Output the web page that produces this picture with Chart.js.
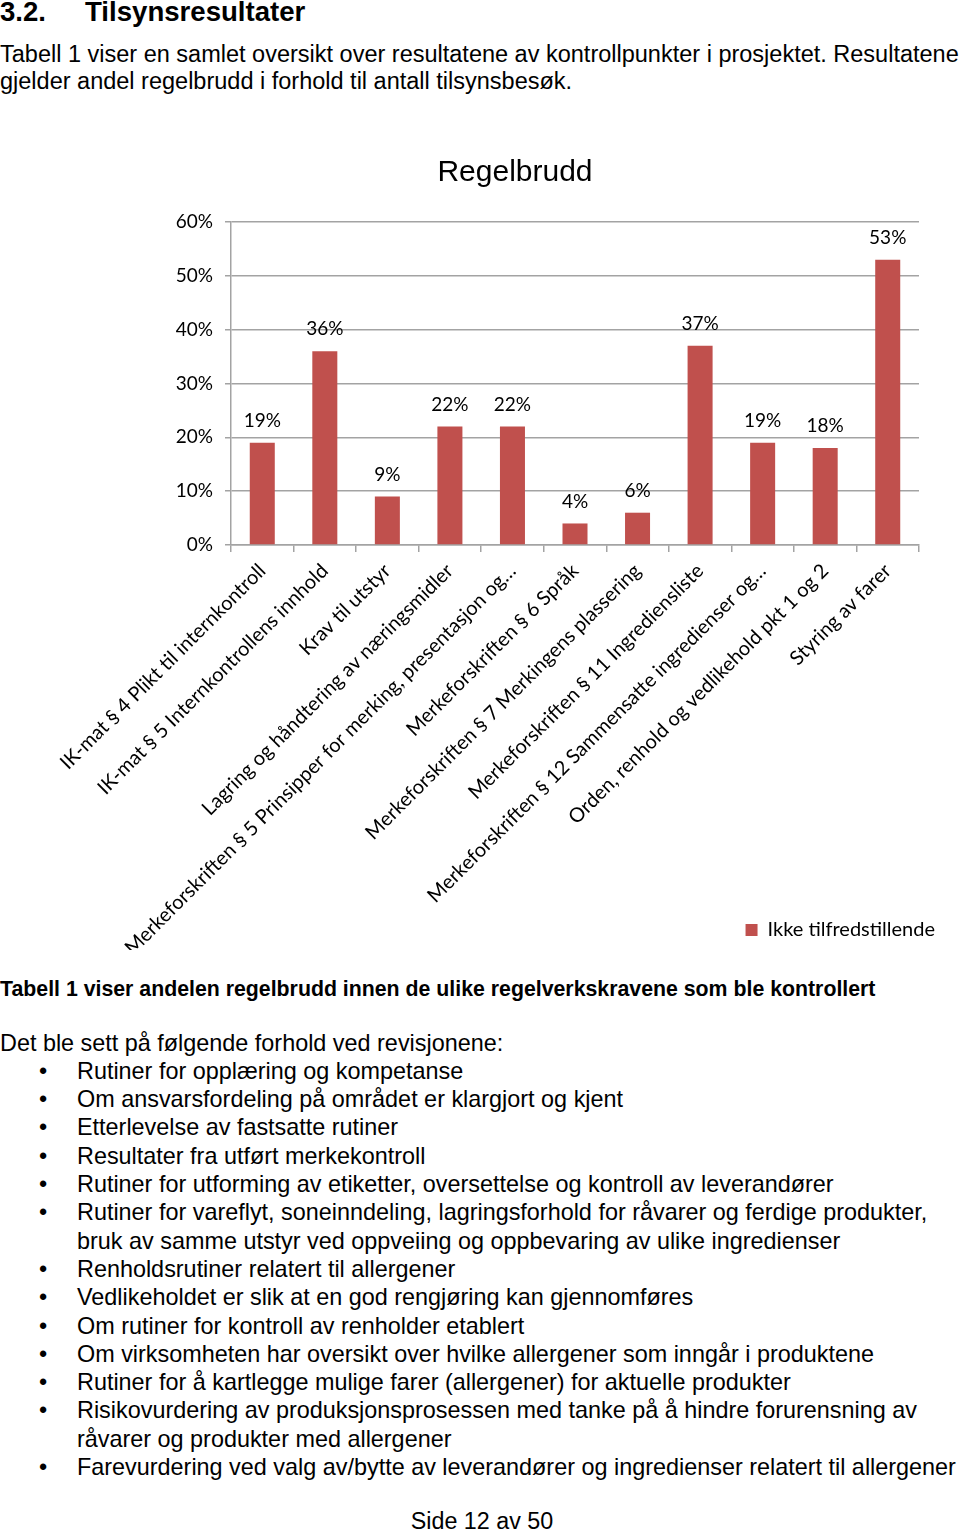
<!DOCTYPE html>
<html>
<head>
<meta charset="utf-8">
<script src="https://cdn.jsdelivr.net/npm/chart.js@4.4.0/dist/chart.umd.min.js"></script>
<style>
  body { margin: 0; background: #fff; }
  #page { position: relative; width: 960px; height: 1532px; overflow: hidden;
          font-family: "Liberation Sans", Arial, sans-serif; color: #000; }
  .t { position: absolute; left: 0; white-space: nowrap; }
  .h { top: -2px; font-size: 27.6px; line-height: 27px; font-weight: bold; }
  .h span { display: inline-block; width: 85px; }
  .p { top: 41.4px; font-size: 23.5px; line-height: 27px; }
  .cap { top: 979px; font-size: 21.3px; line-height: 21.3px; font-weight: bold; }
  .lst { top: 1028.6px; font-size: 23.4px; line-height: 28.3px; }
  .lst ul { margin: 0; padding: 0 0 0 77px; list-style: none; }
  .lst li { position: relative; }
  .lst li::before { content: "\2022"; position: absolute; left: -38px; }
  .foot { top: 1507.5px; width: 964px; text-align: center; font-size: 23.3px; line-height: 27px; }
  #chartBox { position: absolute; left: 0; top: 140px; width: 960px; height: 810px; }
</style>
</head>
<body>
<div id="page">
  <div class="t h"><span>3.2.</span>Tilsynsresultater</div>
  <div class="t p">Tabell 1 viser en samlet oversikt over resultatene av kontrollpunkter i prosjektet. Resultatene<br>gjelder andel regelbrudd i forhold til antall tilsynsbesøk.</div>

  <div id="chartBox"><canvas id="regelChart"></canvas></div>

  <div class="t cap">Tabell 1 viser andelen regelbrudd innen de ulike regelverkskravene som ble kontrollert</div>
  <div class="t lst">
    Det ble sett på følgende forhold ved revisjonene:
    <ul>
      <li>Rutiner for opplæring og kompetanse</li>
      <li>Om ansvarsfordeling på området er klargjort og kjent</li>
      <li>Etterlevelse av fastsatte rutiner</li>
      <li>Resultater fra utført merkekontroll</li>
      <li>Rutiner for utforming av etiketter, oversettelse og kontroll av leverandører</li>
      <li>Rutiner for vareflyt, soneinndeling, lagringsforhold for råvarer og ferdige produkter,<br>bruk av samme utstyr ved oppveiing og oppbevaring av ulike ingredienser</li>
      <li>Renholdsrutiner relatert til allergener</li>
      <li>Vedlikeholdet er slik at en god rengjøring kan gjennomføres</li>
      <li>Om rutiner for kontroll av renholder etablert</li>
      <li>Om virksomheten har oversikt over hvilke allergener som inngår i produktene</li>
      <li>Rutiner for å kartlegge mulige farer (allergener) for aktuelle produkter</li>
      <li>Risikovurdering av produksjonsprosessen med tanke på å hindre forurensning av<br>råvarer og produkter med allergener</li>
      <li>Farevurdering ved valg av/bytte av leverandører og ingredienser relatert til allergener</li>
    </ul>
  </div>
  <div class="t foot">Side 12 av 50</div>
</div>

<script>
// Regelbrudd per kontrollpunkt (andel av tilsynsbesøk, %)
const chartTitle = 'Regelbrudd';
const seriesName = 'Ikke tilfredstillende';
const categories = [
  'IK-mat § 4 Plikt til internkontroll',
  'IK-mat § 5 Internkontrollens innhold',
  'Krav til utstyr',
  'Lagring og håndtering av næringsmidler',
  'Merkeforskriften § 5 Prinsipper for merking, presentasjon og…',
  'Merkeforskriften § 6 Språk',
  'Merkeforskriften § 7 Merkingens plassering',
  'Merkeforskriften § 11 Ingrediensliste',
  'Merkeforskriften § 12 Sammensatte ingredienser og…',
  'Orden, renhold og vedlikehold pkt 1 og 2',
  'Styring av farer'
];
const values = [19, 36, 9, 22, 22, 4, 6, 37, 19, 18, 53];
const yTickValues = [0, 10, 20, 30, 40, 50, 60];

const barColor = '#C0504D';
const gridColor = '#a3a3a3';
const labelFont = 'Lato';

// verdier over søylene
const valueLabels = {
  id: 'valueLabels',
  afterDatasetsDraw(chart) {
    const ctx = chart.ctx;
    const meta = chart.getDatasetMeta(0);
    ctx.save();
    ctx.font = '19px ' + labelFont;
    ctx.fillStyle = '#000';
    ctx.textAlign = 'center';
    ctx.textBaseline = 'middle';
    meta.data.forEach((bar, i) => {
      ctx.fillText(values[i] + '%', bar.x, bar.y - 22);
    });
    ctx.restore();
  }
};

document.addEventListener('DOMContentLoaded', () => {
  const ctx = document.getElementById('regelChart').getContext('2d');
  new Chart(ctx, {
    type: 'bar',
    data: {
      labels: categories,
      datasets: [{
        label: seriesName,
        data: values,
        backgroundColor: barColor,
        borderWidth: 0,
        barPercentage: 0.4,
        categoryPercentage: 1
      }]
    },
    options: {
      responsive: true,
      maintainAspectRatio: false,
      animation: false,
      layout: { padding: { left: 85, right: 15, top: 0, bottom: 0 } },
      scales: {
        x: {
          grid: { drawOnChartArea: false, color: gridColor, lineWidth: 1.5, tickLength: 7, offset: true },
          border: { color: gridColor, width: 1.5 },
          ticks: {
            autoSkip: false, maxRotation: 45, minRotation: 45, padding: 7,
            color: '#000', font: { family: labelFont, size: 20 }
          },
          // aksen gjøres lavere slik at forklaringen kan ligge ved siden av de lange etikettene
          afterFit(scale) { scale.height = 365; },
          afterUpdate(scale) { scale._computeLabelArea = () => undefined; }
        },
        y: {
          min: 0, max: 60,
          grid: { color: gridColor, lineWidth: 1.5, tickLength: 6 },
          border: { color: gridColor, width: 1.5 },
          ticks: {
            padding: 12, color: '#000', font: { family: labelFont, size: 19 },
            callback: v => v + '%'
          },
          afterBuildTicks(axis) { axis.ticks = yTickValues.map(v => ({ value: v })); },
          afterFit(scale) { scale.width = 146; }
        },
        yRight: {
          position: 'right', display: true,
          grid: { display: false }, border: { display: false },
          ticks: { display: false },
          afterFit(scale) { scale.width = 26; }
        }
      },
      plugins: {
        title: {
          display: true, text: chartTitle, color: '#000',
          font: { family: '"Liberation Sans", Arial, sans-serif', size: 30, weight: 'normal' },
          padding: { top: 15, bottom: 31 }
        },
        legend: {
          position: 'bottom', align: 'end',
          labels: {
            color: '#000', font: { family: labelFont, size: 20 },
            boxWidth: 12, boxHeight: 12, padding: 10
          }
        },
        tooltip: { enabled: false }
      }
    },
    plugins: [valueLabels]
  });
});
</script>
</body>
</html>
